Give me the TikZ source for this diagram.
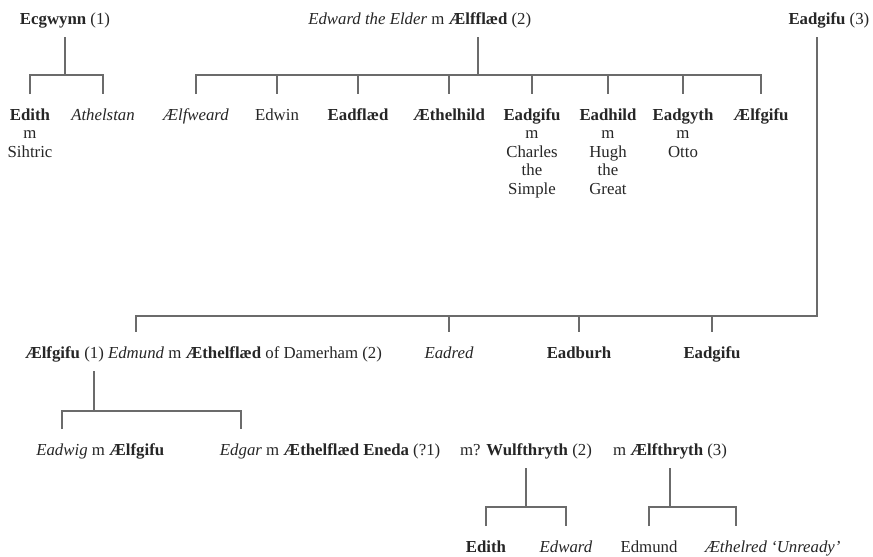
\documentclass[tikz,border=0pt]{standalone}
\usepackage{fontspec}
\setmainfont{Liberation Serif}
\usetikzlibrary{calc}
\definecolor{ink}{HTML}{262626}
\definecolor{rulegray}{HTML}{6B6B6B}
% a column of stacked lines whose baseline is that of its first line
\newcommand\famcol[1]{\begin{tabular}[t]{@{}c@{}}#1\end{tabular}}
\begin{document}
\begin{tikzpicture}[x=1pt,y=-1pt,
  person/.style={inner sep=0pt, outer sep=0pt, anchor=base,
    text height=11.5pt, text depth=3.5pt, text=ink,
    font=\fontsize{16.8}{18.6}\selectfont},
  conn/.style={draw=rulegray, line width=1.4pt},
  stem/.style={conn, shorten <=9.5pt}]
\fill[white] (0,0) rectangle (873,557);
\useasboundingbox (0,0) rectangle (873,557);

% levels of the horizontal bars
\coordinate (barA) at (0,75);
\coordinate (barB) at (0,316);
\coordinate (barC) at (0,411);
\coordinate (barD) at (0,507);

% ---- first generation ----
\node[person] (ecg) at (65,24) {\textbf{Ecgwynn} (1)};
\node[person] (aelfflaed) at (478,24) {\textbf{Ælfflæd}};
\node[person, anchor=base east] (edwardE) at ([xshift=-4.2pt]aelfflaed.base west) {\textit{Edward the Elder} m};
\node[person, anchor=base west] (wifeII) at ([xshift=4.2pt]aelfflaed.base east) {(2)};
\node[person] (eadgIII) at (817,24) {\textbf{Eadgifu}};
\node[person, anchor=base west] (wifeIII) at ([xshift=4.2pt]eadgIII.base east) {(3)};

% ---- children of Ecgwynn and Ælfflæd ----
\node[person] (edithA) at (30,120) {\famcol{\textbf{Edith}\\m\\Sihtric}};
\node[person] (athelstan) at (103,120) {\textit{Athelstan}};
\node[person] (aelfweard) at (196,120) {\textit{Ælfweard}};
\node[person] (edwin) at (277,120) {Edwin};
\node[person] (eadflaed) at (358,120) {\textbf{Eadflæd}};
\node[person] (aethelhild) at (449,120) {\textbf{Æthelhild}};
\node[person] (eadgifuC) at (532,120) {\famcol{\textbf{Eadgifu}\\m\\Charles\\the\\Simple}};
\node[person] (eadhild) at (608,120) {\famcol{\textbf{Eadhild}\\m\\Hugh\\the\\Great}};
\node[person] (eadgyth) at (683,120) {\famcol{\textbf{Eadgyth}\\m\\Otto}};
\node[person] (aelfgifuC) at (761,120) {\textbf{Ælfgifu}};

% ---- children of Eadgifu (3) ----
\node[person, anchor=base west] (aelfgifuI) at (25,358) {\textbf{Ælfgifu}};
\node[person, anchor=base west] (markI) at ([xshift=4.2pt]aelfgifuI.base east) {(1)};
\node[person, anchor=base west] (edmund) at ([xshift=4.2pt]markI.base east) {\textit{Edmund}};
\node[person, anchor=base west] (damerham) at ([xshift=4.2pt]edmund.base east) {m \textbf{Æthelflæd} of Damerham (2)};
\node[person] (eadred) at (449,358) {\textit{Eadred}};
\node[person] (eadburh) at (579,358) {\textbf{Eadburh}};
\node[person] (eadgifuD) at (712,358) {\textbf{Eadgifu}};

% ---- sons of Edmund ----
\node[person] (eadwig) at (62,455) {\textit{Eadwig}};
\node[person, anchor=base west] (eadwigwife) at ([xshift=4.2pt]eadwig.base east) {m \textbf{Ælfgifu}};
\node[person] (edgar) at (241,455) {\textit{Edgar}};
\node[person, anchor=base west] (edgarwife) at ([xshift=4.2pt]edgar.base east) {m \textbf{Æthelflæd Eneda} (?1)};
\node[person] (wulf) at (526,455) {m? \textbf{Wulfthryth} (2)};
\node[person] (aelfthryth) at (670,455) {m \textbf{Ælfthryth} (3)};

% ---- children of Edgar ----
\node[person] (edithB) at (486,552) {\textbf{Edith}};
\node[person] (edwardB) at (566,552) {\textit{Edward}};
\node[person] (edmundB) at (649,552) {Edmund};
\node[person] (aethelred) at (736,552) {\textit{Æthelred}};
\node[person, anchor=base west] (unready) at ([xshift=4.2pt]aethelred.base east) {\textit{‘Unready’}};

% ---- connectors ----
% Ecgwynn
\draw[stem] (ecg.south) -- (ecg.south |- barA);
\draw[conn] ([yshift=14.5pt]edithA.north) -- (edithA.north |- barA)
  -- (athelstan.north |- barA) -- ([yshift=14.5pt]athelstan.north);
% Edward and Ælfflæd
\draw[stem] (aelfflaed.south) -- (aelfflaed.south |- barA);
\draw[conn] ([yshift=14.5pt]aelfweard.north) -- (aelfweard.north |- barA)
  -- (aelfgifuC.north |- barA) -- ([yshift=14.5pt]aelfgifuC.north);
\foreach \k in {edwin,eadflaed,aethelhild,eadgifuC,eadhild,eadgyth}
  \draw[conn] (\k.north |- barA) -- ([yshift=14.5pt]\k.north);
% Edward and Eadgifu
\draw[conn] ([yshift=-9.5pt]eadgIII.south) -- (eadgIII.south |- barB)
  -- (edmund.north |- barB) -- ([yshift=14.5pt]edmund.north);
\foreach \k in {eadred,eadburh,eadgifuD}
  \draw[conn] (\k.north |- barB) -- ([yshift=14.5pt]\k.north);
% Edmund and Ælfgifu
\draw[stem] (markI.south) -- (markI.south |- barC);
\draw[conn] ([yshift=14.5pt]eadwig.north) -- (eadwig.north |- barC)
  -- (edgar.north |- barC) -- ([yshift=14.5pt]edgar.north);
% Edgar and Wulfthryth
\draw[stem] (wulf.south) -- (wulf.south |- barD);
\draw[conn] ([yshift=14.5pt]edithB.north) -- (edithB.north |- barD)
  -- (edwardB.north |- barD) -- ([yshift=14.5pt]edwardB.north);
% Edgar and Ælfthryth
\draw[stem] (aelfthryth.south) -- (aelfthryth.south |- barD);
\draw[conn] ([yshift=14.5pt]edmundB.north) -- (edmundB.north |- barD)
  -- (aethelred.north |- barD) -- ([yshift=14.5pt]aethelred.north);
\end{tikzpicture}
\end{document}
